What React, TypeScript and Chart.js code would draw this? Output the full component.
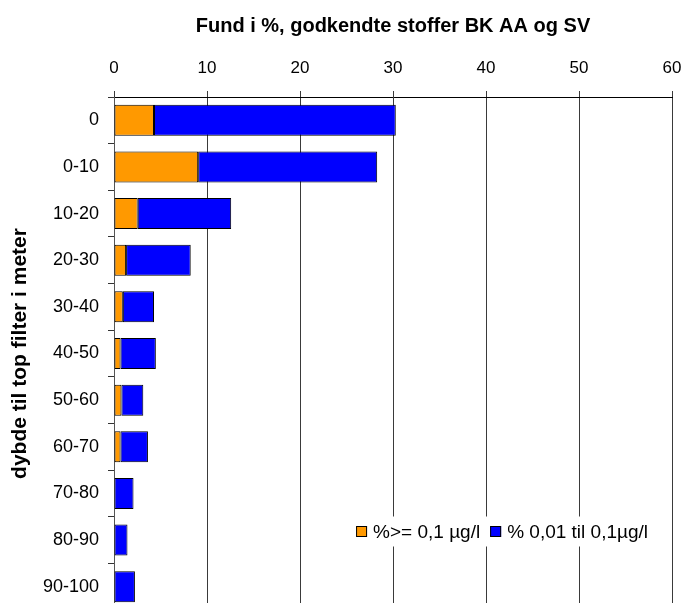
import React, { useEffect, useRef } from "react";
import { Chart, registerables } from "chart.js";

Chart.register(...registerables);

const categories = ["0", "0-10", "10-20", "20-30", "30-40", "40-50", "50-60", "60-70", "70-80", "80-90", "90-100"];
const highValues = [4.3, 9.05, 2.55, 1.3, 0.95, 0.7, 0.8, 0.7, 0, 0, 0];
const lowValues = [26.0, 19.25, 10.05, 6.95, 3.35, 3.8, 2.35, 2.95, 2.1, 1.45, 2.25];
const xMin = 0;
const xMax = 60;
const xStep = 10;
const seriesLabels = ["%>= 0,1 µg/l", "% 0,01 til 0,1µg/l"];
const seriesColors = ["#FF9900", "#0000FF"];
const chartTitle = "Fund i %, godkendte stoffer BK AA og SV";
const yTitle = "dybde til top filter i meter";

const FONT = "'Liberation Sans', Arial, sans-serif";

const overlayPlugin = {
  id: "overlay",
  afterDatasetsDraw(chart: any) {
    const ctx = chart.ctx as CanvasRenderingContext2D;
    const area = chart.chartArea;
    ctx.save();
    // legend
    ctx.font = `19px ${FONT}`;
    ctx.textBaseline = "middle";
    const boxSize = 11;
    const gapBoxText = 6;
    const gapItems = 10;
    const widths = chart.data.datasets.map((d: any) => ctx.measureText(d.label).width);
    const total = widths.reduce((a: number, w: number) => a + boxSize + gapBoxText + w, 0) + gapItems * (widths.length - 1);
    const rightEdge = area.right - 24;
    let x = rightEdge - total;
    const yMid = 531.5;
    ctx.fillStyle = "#ffffff";
    ctx.fillRect(x - 7, yMid - 15, total + 14, 30);
    chart.data.datasets.forEach((d: any, i: number) => {
      ctx.fillStyle = d.backgroundColor;
      ctx.fillRect(x, yMid - boxSize / 2, boxSize, boxSize);
      ctx.strokeStyle = "#000";
      ctx.lineWidth = 1;
      ctx.strokeRect(x + 0.5, yMid - boxSize / 2 + 0.5, boxSize - 1, boxSize - 1);
      ctx.fillStyle = "#000";
      ctx.textAlign = "left";
      ctx.fillText(d.label, x + boxSize + gapBoxText, yMid + 1);
      x += boxSize + gapBoxText + widths[i] + gapItems;
    });
    // title
    ctx.font = `bold 20px ${FONT}`;
    ctx.textAlign = "center";
    ctx.textBaseline = "middle";
    ctx.fillStyle = "#000";
    ctx.fillText(chartTitle, (area.left + area.right) / 2, 26);
    ctx.restore();
  },
};

export default function App() {
  const canvasRef = useRef<HTMLCanvasElement | null>(null);

  useEffect(() => {
    if (!canvasRef.current) return;
    const chart = new Chart(canvasRef.current, {
      type: "bar",
      data: {
        labels: categories,
        datasets: [
          {
            label: seriesLabels[0],
            data: highValues,
            backgroundColor: seriesColors[0],
            borderColor: "#000",
            borderWidth: 1,
            borderSkipped: false,
            barPercentage: 0.665,
            categoryPercentage: 1,
          },
          {
            label: seriesLabels[1],
            data: lowValues,
            backgroundColor: seriesColors[1],
            borderColor: "#000",
            borderWidth: 1,
            borderSkipped: false,
            barPercentage: 0.665,
            categoryPercentage: 1,
          },
        ],
      },
      options: {
        indexAxis: "y",
        responsive: false,
        animation: false,
        layout: { padding: { left: 0, right: 13, top: 0, bottom: 0 } },
        plugins: {
          legend: { display: false },
          title: { display: false },
          tooltip: { enabled: false },
        },
        scales: {
          x: {
            type: "linear",
            position: "top",
            stacked: true,
            min: xMin,
            max: xMax,
            ticks: {
              stepSize: xStep,
              color: "#000",
              font: { family: FONT, size: 17 },
              padding: 12,
            },
            grid: {
              color: "#3a3a3a",
              lineWidth: 1,
              tickLength: 6,
              drawTicks: true,
            },
            border: { display: true, color: "#000", width: 1 },
            afterFit: (s: any) => {
              s.height = 97;
              s.paddingLeft = 0;
              s.paddingRight = 0;
            },
          },
          y: {
            type: "category",
            stacked: true,
            ticks: {
              color: "#000",
              font: { family: FONT, size: 18 },
              padding: 9,
            },
            grid: {
              drawOnChartArea: false,
              drawTicks: true,
              tickLength: 6,
              color: "#333",
              offset: true,
            },
            border: { display: true, color: "#555", width: 1 },
            title: {
              display: true,
              text: yTitle,
              color: "#000",
              font: { family: FONT, size: 21, weight: "bold" },
              padding: { top: 8, bottom: 0 },
            },
            afterFit: (s: any) => {
              s.width = 114;
              s.paddingTop = 0;
              s.paddingBottom = 0;
            },
          },
        },
      },
      plugins: [overlayPlugin],
    });
    return () => chart.destroy();
  }, []);

  return (
    <div style={{ position: "absolute", left: 0, top: 0, width: 685, height: 603, overflow: "hidden", background: "#fff" }}>
      <canvas ref={canvasRef} width={685} height={610} style={{ display: "block", width: 685, height: 610 }} />
    </div>
  );
}
